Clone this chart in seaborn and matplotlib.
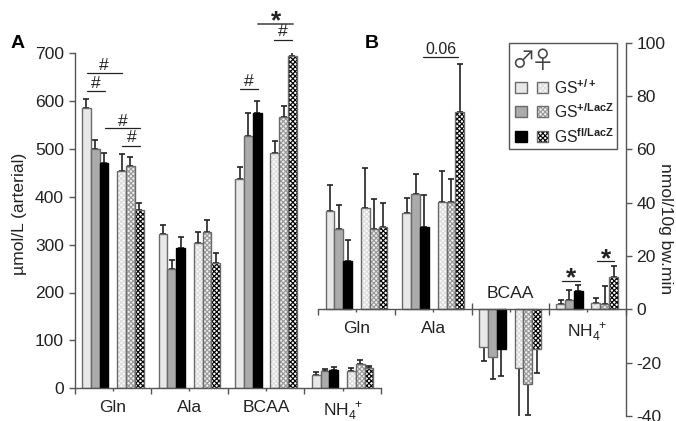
import matplotlib
matplotlib.use("Agg")
import matplotlib.pyplot as plt
from matplotlib.colors import to_rgba
from matplotlib.patches import Rectangle
import pandas as pd
import seaborn as sns

categories = ["Gln", "Ala", "BCAA", "NH4"]

a_m_wt = [585, 323, 437, 28]
a_m_het = [500, 250, 526, 36]
a_m_fl = [470, 292, 575, 39]
a_f_wt = [453, 304, 492, 37]
a_f_het = [465, 327, 566, 50]
a_f_fl = [372, 262, 694, 42]
a_m_wt_top = [603, 341, 463, 33]
a_m_het_top = [518, 268, 575, 40]
a_m_fl_top = [492, 315, 600, 44]
a_f_wt_top = [489, 327, 516, 43]
a_f_het_top = [482, 351, 589, 59]
a_f_fl_top = [387, 283, 718, 47]

b_m_wt = [37, 36, -14, 2]
b_m_het = [30, 43.2, -18, 3.5]
b_m_fl = [18, 30.8, -15, 7]
b_f_wt = [38, 40.4, -22, 2.2]
b_f_het = [30, 40.4, -28, 2]
b_f_fl = [31, 74, -15, 12]
b_m_wt_top = [46.7, 41.8, -19.3, 3.5]
b_m_het_top = [39, 50.7, -26, 7.3]
b_m_fl_top = [26, 43, -25, 9]
b_f_wt_top = [53, 52, -41, 4.3]
b_f_het_top = [41.3, 49, -39.5, 8.7]
b_f_fl_top = [40, 92, -24, 16.3]

a_yticks = [0, 100, 200, 300, 400, 500, 600, 700]
b_yticks = [-40, -20, 0, 20, 40, 60, 80, 100]

groups = ["m_wt", "m_het", "m_fl", "gap", "f_wt", "f_het", "f_fl"]
names = ["m_wt", "m_het", "m_fl", "f_wt", "f_het", "f_fl"]
fills = {"m_wt": "#e8e8e8", "m_het": "#ababab", "m_fl": "#000000", "gap": "#ffffff",
         "f_wt": "#fbfbfb", "f_het": "#f0f0f0", "f_fl": "#ffffff"}
HATCH = "xxxxxxx"
hatches = {"f_wt": "#dcdcdc", "f_het": "#9a9a9a", "f_fl": "#000000"}
EDGE = "#6a6a6a"
AX = "#555555"
INK = "#222222"
W, H = 676, 421

sns.set_theme(style="white")
plt.rcParams["font.family"] = ["Liberation Sans", "DejaVu Sans"]
plt.rcParams.update({"mathtext.fontset": "custom", "mathtext.rm": "Liberation Sans",
                     "mathtext.bf": "Liberation Sans:bold", "mathtext.default": "regular",
                     "hatch.linewidth": 0.85, "axes.unicode_minus": False})
FS = 12.6
fig = plt.figure(figsize=(W / 100, H / 100), dpi=100)


def px_axes(x0, x1, y_top, y_bot, **kw):
    return fig.add_axes([x0 / W, 1 - y_bot / H, (x1 - x0) / W, (y_bot - y_top) / H], **kw)


def frame(means):
    rows = [(c, g, v) for g, vals in zip(names, means) for c, v in zip(categories, vals)]
    return pd.DataFrame(rows, columns=["cat", "group", "value"])


def draw_panel(ax, means, tops):
    sns.barplot(data=frame(means), x="cat", y="value", hue="group", order=categories,
                hue_order=groups, palette=fills, width=0.804, gap=0, errorbar=None,
                legend=False, ax=ax, edgecolor=EDGE, linewidth=1.0, zorder=2)
    bars = sorted(ax.patches, key=lambda p: p.get_x())
    for i, p in enumerate(bars):
        c, s = i // 6, i % 6
        name = names[s]
        if name == "m_fl":
            p.set_edgecolor("#000000")
        if name in hatches:
            p.set_hatch(HATCH)
            p._hatch_color = to_rgba(hatches[name])
        m, t = means[s][c], tops[s][c]
        ax.errorbar([p.get_x() + p.get_width() / 2], [m],
                    yerr=[[max(m - t, 0)], [max(t - m, 0)]], fmt="none", ecolor=INK,
                    elinewidth=1.2, capsize=2.2, capthick=1.2, zorder=1)
    ax.set_xlim(-0.5, 3.5)
    ax.set_xlabel("")
    ax.set_ylabel("")
    ax.patch.set_alpha(0)
    ax.set_xticks([-0.5, 0.5, 1.5, 2.5, 3.5], minor=True)
    ax.set_xticks(range(4))
    ax.tick_params(axis="x", which="minor", length=4, width=1.0, color=AX, direction="out", bottom=True)
    ax.tick_params(axis="x", which="major", length=2.5, width=1.0, color=AX, direction="out",
                   bottom=True, labelsize=FS, labelcolor=INK, pad=6)
    ax.tick_params(axis="y", length=4.5, width=1.0, color=AX, labelsize=FS, labelcolor=INK, pad=3)
    for s in ax.spines.values():
        s.set_color(AX)
        s.set_linewidth(1.0)
    ax.spines["top"].set_visible(False)


# Panel A
axA = px_axes(74.5, 381, 53, 388.3)
draw_panel(axA, [a_m_wt, a_m_het, a_m_fl, a_f_wt, a_f_het, a_f_fl],
           [a_m_wt_top, a_m_het_top, a_m_fl_top, a_f_wt_top, a_f_het_top, a_f_fl_top])
axA.set_ylim(0, 700)
axA.set_yticks(a_yticks)
axA.tick_params(axis="y", left=True)
axA.spines["right"].set_visible(False)
axA.set_xticklabels(["Gln", "Ala", "BCAA", r"NH$_4^{\ +}$"])

# Panel B
axB = px_axes(318, 625.5, 42.7, 416)
draw_panel(axB, [b_m_wt, b_m_het, b_m_fl, b_f_wt, b_f_het, b_f_fl],
           [b_m_wt_top, b_m_het_top, b_m_fl_top, b_f_wt_top, b_f_het_top, b_f_fl_top])
axB.set_ylim(-40, 100)
axB.set_yticks(b_yticks)
axB.spines["left"].set_visible(False)
axB.spines["bottom"].set_position(("data", 0))
axB.yaxis.tick_right()
axB.tick_params(axis="y", right=True, left=False, pad=3.5)
axB.set_xticklabels(["Gln", "Ala", "", r"NH$_4^{\ +}$"])
axB.vlines([1.5, 2.5], 0, 2.2, color=AX, lw=1.0, zorder=1)
axB.text(2, 6, "BCAA", ha="center", va="center", fontsize=FS, color=INK)

# Overlay in pixel coordinates: annotations and legend
ov = fig.add_axes([0, 0, 1, 1], zorder=10)
ov.set_xlim(0, W)
ov.set_ylim(H, 0)
ov.axis("off")

for x0, x1, y, tx, ty in [(86.7, 121.7, 73, 104, 65.5), (87.3, 105, 91.3, 96, 83.3),
                          (105.3, 140, 128.3, 122.7, 121), (122, 140, 145.7, 131.7, 137.5),
                          (240, 257.7, 89, 249, 81), (274.3, 292.3, 40.3, 283, 32)]:
    ov.plot([x0, x1], [y, y], color=INK, lw=0.9)
    ov.text(tx, ty, "#", ha="center", va="center", fontsize=FS, color=INK)
ov.plot([258.3, 292.7], [24, 24], color="#666666", lw=1.4)
ov.plot([423.3, 457.7], [57.3, 57.3], color=INK, lw=0.9)
ov.plot([562.3, 580], [280.7, 280.7], color=INK, lw=0.9)
ov.plot([596.7, 614.3], [261.3, 261.3], color=INK, lw=0.9)
for x, y in [(275.7, 21), (571, 278), (605.7, 259)]:
    ov.text(x, y, "*", ha="center", va="center", fontsize=19, fontweight="bold", color=INK)
ov.text(441, 49, "0.06", ha="center", va="center", fontsize=11.5, color=INK)
ov.text(18, 44, "A", ha="center", va="center", fontsize=14, fontweight="bold", color="black")
ov.text(371.7, 44, "B", ha="center", va="center", fontsize=14, fontweight="bold", color="black")
ov.text(20, 214, "µmol/L (arterial)", rotation=90, ha="center", va="center", fontsize=FS, color=INK)
ov.text(665, 229, "nmol/10g bw.min", rotation=-90, ha="center", va="center", fontsize=FS, color=INK)

ov.add_patch(Rectangle((508.5, 42.5), 108.5, 106, fc="white", ec=AX, lw=1.0))
ov.text(523, 61, "\u2642", family="Noto Sans CJK SC", ha="center", va="center", fontsize=17, color="#444444")
ov.text(543, 61, "\u2640", family="Noto Sans CJK SC", ha="center", va="center", fontsize=17, color="#444444")
legend_rows = [("m_wt", "f_wt", r"GS$^{\mathbf{+/+}}$", 87), ("m_het", "f_het", r"GS$^{\mathbf{+/LacZ}}$", 111),
               ("m_fl", "f_fl", r"GS$^{\mathbf{fl/LacZ}}$", 136)]
for m, f, label, y in legend_rows:
    ov.add_patch(Rectangle((515, y - 5.5), 11.5, 11, fc=fills[m],
                           ec="#000000" if m == "m_fl" else EDGE, lw=1.0))
    r = Rectangle((536.5, y - 5.5), 11, 11, fc=fills[f], ec=EDGE, lw=1.0, hatch=HATCH)
    r._hatch_color = to_rgba(hatches[f])
    ov.add_patch(r)
    ov.text(554, y + 1, label, ha="left", va="center", fontsize=11.3, color=INK)

fig.savefig("out.png", dpi=100)
